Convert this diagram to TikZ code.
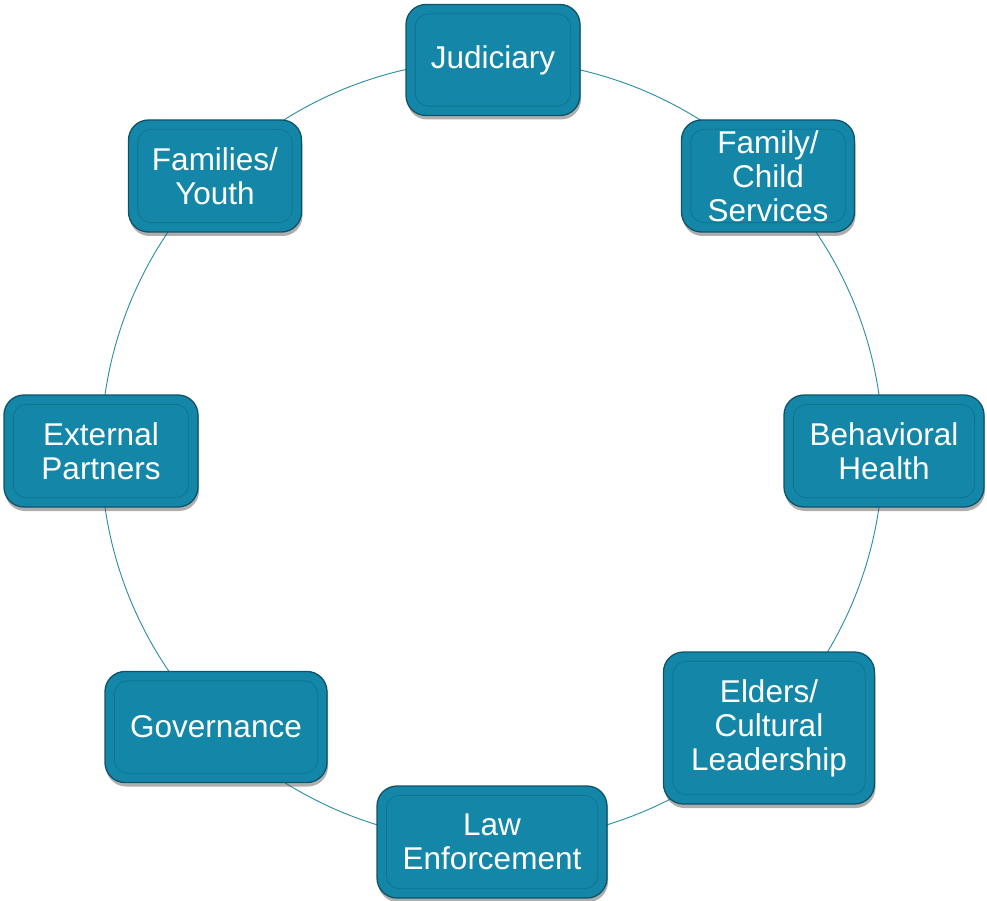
\documentclass[tikz,border=0pt]{standalone}
\usepackage{fontspec}
\setmainfont{Liberation Sans}
\usetikzlibrary{shadows}
\definecolor{boxfill}{RGB}{20,135,168}
\definecolor{boxedge}{RGB}{14,84,104}
\definecolor{inneredge}{RGB}{16,116,145}
\definecolor{ringcol}{RGB}{40,140,165}
\tikzset{
  pbox/.style={rectangle, rounded corners=20pt, fill=boxfill, draw=boxedge, line width=1.3pt,
    text=white, align=center, font=\fontsize{31.5}{34}\selectfont,
    drop shadow={shadow xshift=1pt, shadow yshift=-4pt, opacity=0.45, fill=black!70}},
  innerbox/.style={draw=inneredge, line width=0.8pt, rounded corners=13pt},
  ring/.style={circle, draw=ringcol, line width=0.9pt, inner sep=0pt}
}
\newcommand{\pbox}[6]{%
  \node[pbox, minimum width=#4pt, minimum height=#5pt] (#1) at (#2,#3) {#6};
  \draw[innerbox] ([shift={(10pt,10pt)}]#1.south west) rectangle ([shift={(-10pt,-10pt)}]#1.north east);
}
\begin{document}
\begin{tikzpicture}[x=1pt,y=-1pt]
\useasboundingbox (0,0) rectangle (987,901);
\node[ring, minimum size=782pt] (ringnode) at (492,451) {};
\pbox{jud}{493}{60}{174}{111}{Judiciary}
\pbox{fcs}{768}{176}{173}{112}{Family/\\Child\\Services}
\pbox{bh}{884}{451}{200}{112}{Behavioral\\Health}
\pbox{ecl}{769}{728}{211}{152}{Elders/\\Cultural\\Leadership}
\pbox{le}{492}{842}{230}{112}{Law\\Enforcement}
\pbox{gov}{216}{727}{222}{111}{Governance}
\pbox{ep}{101}{451}{194}{112}{External\\Partners}
\pbox{fy}{215}{176}{173}{112}{Families/\\Youth}
\end{tikzpicture}
\end{document}
